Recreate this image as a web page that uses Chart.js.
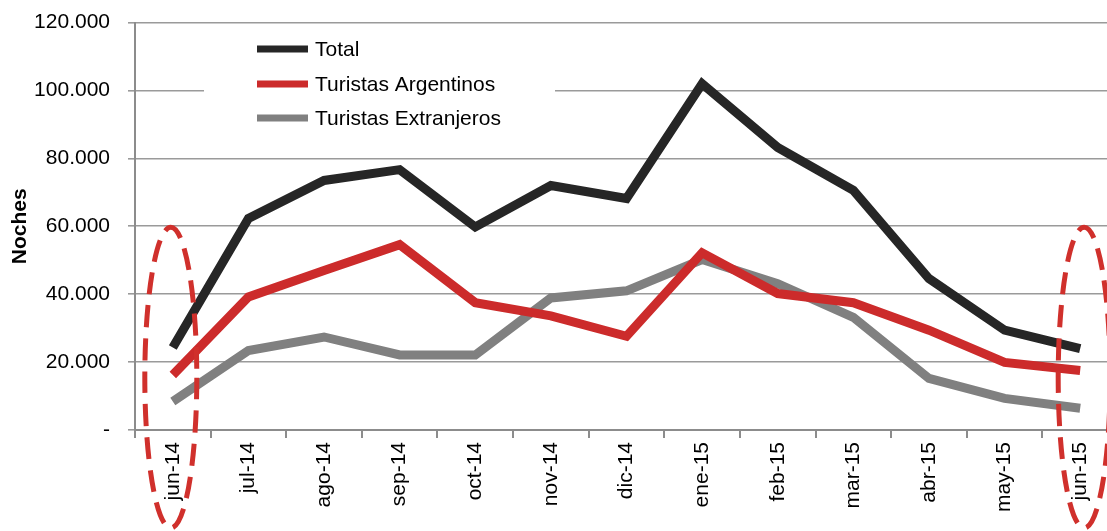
<!DOCTYPE html>
<html>
<head>
<meta charset="utf-8">
<script src="https://cdn.jsdelivr.net/npm/chart.js@4/dist/chart.umd.min.js"></script>
<style>
html,body{margin:0;padding:0;background:#fff;overflow:hidden;}
#wrap{width:1120px;height:539px;margin-top:-8px;}
</style>
</head>
<body>
<div id="wrap"><canvas id="c" width="1120" height="539"></canvas></div>
<script>
const categories = ['jun-14','jul-14','ago-14','sep-14','oct-14','nov-14','dic-14','ene-15','feb-15','mar-15','abr-15','may-15','jun-15'];
const total = [24300, 62300, 73500, 76700, 59800, 72000, 68200, 102000, 83200, 70600, 44600, 29400, 24000];
const argentinos = [16200, 39200, 47000, 54600, 37500, 33600, 27600, 52200, 40200, 37500, 29400, 19900, 17500];
const extranjeros = [8400, 23400, 27400, 22100, 22100, 38900, 41000, 50200, 43100, 33200, 15200, 9300, 6400];
const yTicks = [0, 20000, 40000, 60000, 80000, 100000, 120000];
const seriesNames = ['Total', 'Turistas Argentinos', 'Turistas Extranjeros'];

const FONT = '"Liberation Sans", Arial, sans-serif';
const SHIFT = 8;

function fmt(v){
  if (v === 0) return '-';
  return String(v).replace(/\B(?=(\d{3})+(?!\d))/g, '.');
}

const legendPlugin = {
  id: 'customLegend',
  beforeDatasetsDraw(chart){
    const ctx = chart.ctx;
    ctx.save();
    ctx.fillStyle = '#ffffff';
    ctx.fillRect(204, 30 + SHIFT, 351, 100);
    const rows = [49, 84, 118];
    chart.data.datasets.forEach((ds, i) => {
      const y = rows[i] + SHIFT;
      ctx.strokeStyle = ds.borderColor;
      ctx.lineWidth = 7;
      ctx.lineCap = 'butt';
      ctx.beginPath();
      ctx.moveTo(257, y);
      ctx.lineTo(308, y);
      ctx.stroke();
      ctx.fillStyle = '#000';
      ctx.font = '21px ' + FONT;
      ctx.textBaseline = 'middle';
      ctx.textAlign = 'left';
      ctx.fillText(ds.label, 315, y + 1);
    });
    ctx.restore();
  }
};

const ellipsePlugin = {
  id: 'ellipses',
  afterDatasetsDraw(chart){
    const ctx = chart.ctx;
    const xs = chart.scales.x, ys = chart.scales.y;
    const top = ys.getPixelForValue(60000) + 1;
    const bottom = chart.height - 3;
    const cy = (top + bottom) / 2, ry = (bottom - top) / 2;
    const centers = [xs.getPixelForValue(0) - 2, xs.getPixelForValue(categories.length - 1) + 4];
    ctx.save();
    ctx.strokeStyle = '#d0302c';
    ctx.lineWidth = 5;
    ctx.setLineDash([22, 11]);
    centers.forEach(cx => {
      ctx.beginPath();
      ctx.ellipse(cx, cy, 26, ry, 0, 0, Math.PI * 2);
      ctx.stroke();
    });
    ctx.restore();
  }
};

new Chart(document.getElementById('c'), {
  type: 'line',
  data: {
    labels: categories,
    datasets: [
      { label: seriesNames[0], data: total, borderColor: '#262626', backgroundColor: '#262626' },
      { label: seriesNames[1], data: argentinos, borderColor: '#cc2b2b', backgroundColor: '#cc2b2b' },
      { label: seriesNames[2], data: extranjeros, borderColor: '#808080', backgroundColor: '#808080' }
    ]
  },
  options: {
    responsive: false,
    animation: false,
    layout: { padding: { top: 14, right: 2, bottom: 0, left: 0 } },
    elements: {
      line: { borderWidth: 9, tension: 0, borderCapStyle: 'butt', borderJoinStyle: 'miter' },
      point: { radius: 0, hoverRadius: 0 }
    },
    plugins: {
      legend: { display: false },
      tooltip: { enabled: false }
    },
    scales: {
      x: {
        type: 'category',
        offset: true,
        grid: { offset: true, drawOnChartArea: false, drawTicks: true, tickLength: 8, color: '#8c8c8c', lineWidth: 2 },
        border: { display: true, color: '#8c8c8c', width: 2 },
        ticks: { minRotation: 90, maxRotation: 90, autoSkip: false, padding: 4, color: '#000', font: { family: FONT, size: 21 } },
        afterFit(scale){ scale.height = 101; }
      },
      y: {
        min: 0,
        max: 120000,
        afterBuildTicks(scale){ scale.ticks = yTicks.map(v => ({ value: v })); },
        grid: { color: '#9a9a9a', lineWidth: 1.6, tickLength: 7, drawTicks: true },
        border: { display: true, color: '#8c8c8c', width: 2 },
        ticks: { padding: 18, color: '#000', font: { family: FONT, size: 21 }, callback: v => fmt(v) },
        title: { display: true, text: 'Noches', color: '#000', font: { family: FONT, size: 21, weight: 'bold' }, padding: { top: 8, bottom: 0 } },
        afterFit(scale){ scale.width = 135; }
      }
    }
  },
  plugins: [legendPlugin, ellipsePlugin]
});
</script>
</body>
</html>
